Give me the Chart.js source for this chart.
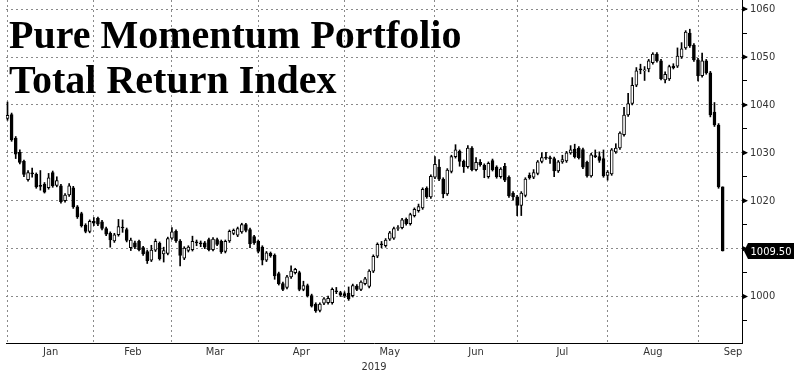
<!DOCTYPE html>
<html>
<head>
<meta charset="utf-8">
<script src="https://cdn.jsdelivr.net/npm/chart.js@4.4.1/dist/chart.umd.min.js"></script>
<style>
  html, body { margin: 0; padding: 0; background: #fff; }
</style>
</head>
<body>
<canvas id="momentumChart" width="800" height="378"></canvas>
<script>
// Pure momentum portfolio, daily candles from 2 Jan to 11 Sep 2019
const monthNames = ['Jan', 'Feb', 'Mar', 'Apr', 'May', 'Jun', 'Jul', 'Aug', 'Sep'];
const tradingDays = [21, 19, 21, 21, 22, 20, 22, 22, 7];
const monthLabelAt = [10.5, 30.5, 50.5, 71.5, 93, 114, 135, 157, 176.5];
const yTickValues = [995, 1000, 1005, 1010, 1015, 1020, 1025, 1030, 1035, 1040, 1045, 1050, 1055, 1060];

const opens = [
    1037.2, 1038.0, 1033.1, 1030.1, 1028.2, 1024.4, 1025.8, 1025.5, 1023.2, 1023.5, 1022.7, 1025.9, 1023.2, 1023.1, 1020.0, 1021.2, 1022.7, 1018.7, 1017.3, 1014.9, 1013.6,
    1015.7, 1016.3, 1015.6, 1014.2, 1013.2, 1011.6, 1012.9, 1014.5, 1014.0, 1010.2, 1011.2, 1011.5, 1010.2, 1009.4, 1007.6, 1009.7, 1011.1, 1008.9, 1009.0,
    1012.2, 1013.6, 1011.6, 1008.0, 1009.6, 1009.8, 1011.3, 1011.1, 1011.2, 1011.9, 1009.8, 1011.9, 1011.5, 1009.4, 1011.6, 1013.2, 1012.8, 1013.5, 1015.0, 1014.0, 1012.5,
    1011.5, 1010.3, 1007.6, 1009.0, 1008.6, 1004.8, 1002.7, 1001.9, 1004.1, 1005.0, 1005.0, 1001.5, 1002.3, 1000.2, 998.4, 997.1, 998.6, 998.7, 998.7, 1001.2, 1000.8,
    1000.6, 1000.7, 1000.2, 1002.2, 1001.5, 1002.7, 1002.1, 1005.3, 1008.4, 1011.0, 1010.6, 1012.0, 1012.2, 1014.2, 1014.4, 1016.1, 1015.2, 1016.9, 1017.9, 1018.5, 1022.6, 1020.8,
    1024.9, 1027.0, 1024.5, 1021.4, 1026.1, 1029.2, 1030.3, 1028.2, 1027.1, 1031.0, 1026.5, 1028.0, 1027.4, 1025.0, 1028.4, 1027.0, 1025.0, 1027.2, 1024.9, 1021.6,
    1020.8, 1019.0, 1021.1, 1025.3, 1024.9, 1025.7, 1028.2, 1029.0, 1029.0, 1028.8, 1026.2, 1028.1, 1028.3, 1030.0, 1030.8, 1031.0, 1030.7, 1028.0, 1025.2, 1029.4, 1029.2, 1028.8,
    1025.3, 1025.6, 1030.2, 1031.0, 1033.8, 1037.9, 1040.3, 1044.1, 1047.5, 1047.1, 1047.5, 1048.8, 1050.6, 1049.2, 1045.2, 1045.4, 1048.1, 1048.1, 1050.0, 1051.9, 1055.0, 1052.5,
    1049.4, 1046.1, 1049.2, 1046.7, 1038.5, 1035.8, 1022.9
];
const highs = [
    1040.6, 1038.3, 1033.4, 1030.6, 1028.5, 1026.3, 1026.8, 1025.8, 1026.3, 1023.8, 1025.7, 1026.2, 1025.0, 1023.4, 1021.5, 1023.6, 1023.0, 1019.0, 1017.6, 1015.2, 1016.0,
    1016.5, 1016.6, 1015.9, 1014.5, 1013.5, 1013.2, 1016.1, 1016.0, 1014.3, 1012.2, 1011.6, 1011.8, 1010.5, 1009.7, 1010.7, 1012.0, 1011.4, 1010.3, 1012.4,
    1014.4, 1013.9, 1011.9, 1010.4, 1010.6, 1012.6, 1011.8, 1011.6, 1011.5, 1012.2, 1012.3, 1012.2, 1011.8, 1011.8, 1013.9, 1014.1, 1014.5, 1015.3, 1015.3, 1014.3, 1012.8,
    1011.8, 1010.6, 1009.4, 1009.3, 1008.9, 1005.1, 1003.0, 1004.4, 1006.4, 1005.9, 1005.3, 1003.2, 1002.6, 1000.5, 998.7, 998.7, 999.8, 1000.1, 1001.8, 1001.9, 1001.1,
    1001.0, 1002.0, 1002.6, 1002.5, 1003.3, 1004.0, 1005.6, 1008.7, 1011.2, 1011.5, 1012.1, 1013.6, 1014.5, 1014.8, 1016.3, 1016.4, 1017.4, 1018.5, 1019.3, 1022.7, 1022.9, 1025.4,
    1029.2, 1028.6, 1024.8, 1026.7, 1029.5, 1031.7, 1030.6, 1028.5, 1031.5, 1031.3, 1029.0, 1028.6, 1027.7, 1028.1, 1028.7, 1027.3, 1026.9, 1027.8, 1025.2, 1021.9,
    1021.1, 1021.9, 1024.8, 1025.8, 1026.5, 1028.4, 1030.0, 1030.1, 1029.3, 1029.1, 1028.4, 1029.5, 1030.3, 1031.5, 1031.8, 1031.3, 1031.0, 1028.3, 1029.9, 1030.6, 1030.2, 1030.6,
    1026.3, 1030.9, 1031.9, 1034.4, 1039.5, 1042.4, 1045.7, 1047.8, 1048.5, 1048.0, 1049.5, 1050.9, 1050.9, 1049.5, 1046.9, 1048.3, 1048.6, 1051.9, 1053.0, 1055.5, 1055.8, 1052.8,
    1049.7, 1050.8, 1049.5, 1047.0, 1040.5, 1036.1, 1022.9
];
const lows = [
    1036.8, 1032.4, 1028.8, 1027.7, 1025.0, 1024.1, 1024.9, 1022.6, 1022.2, 1021.6, 1022.4, 1022.8, 1022.9, 1019.5, 1019.7, 1020.9, 1018.4, 1016.3, 1014.5, 1013.3, 1013.3,
    1014.8, 1014.8, 1013.9, 1012.7, 1010.3, 1011.3, 1012.6, 1013.4, 1011.4, 1009.6, 1010.0, 1009.5, 1008.6, 1006.9, 1007.3, 1009.4, 1007.6, 1007.2, 1008.7,
    1011.9, 1011.3, 1006.4, 1007.7, 1009.3, 1009.5, 1010.6, 1010.4, 1010.0, 1009.5, 1009.5, 1010.6, 1009.0, 1009.1, 1011.3, 1012.9, 1012.5, 1013.2, 1013.5, 1010.2, 1010.9,
    1009.1, 1006.6, 1007.3, 1008.2, 1003.6, 1002.4, 1001.2, 1001.6, 1003.8, 1004.7, 1001.2, 1001.2, 999.9, 997.8, 996.7, 996.8, 998.3, 998.4, 998.4, 1000.6, 1000.0,
    999.8, 999.2, 999.9, 1001.2, 1001.2, 1002.4, 1001.8, 1005.0, 1008.1, 1010.2, 1010.3, 1011.7, 1011.9, 1013.8, 1014.1, 1014.9, 1014.9, 1016.6, 1017.6, 1018.2, 1020.5, 1020.5,
    1024.6, 1024.2, 1020.6, 1021.1, 1025.8, 1028.9, 1027.2, 1025.9, 1026.8, 1026.2, 1026.2, 1027.2, 1024.8, 1024.7, 1026.2, 1024.7, 1024.7, 1024.0, 1020.7, 1020.1,
    1016.9, 1016.9, 1020.8, 1024.5, 1024.6, 1025.4, 1027.9, 1028.6, 1027.8, 1025.0, 1025.9, 1027.8, 1028.0, 1029.7, 1028.9, 1028.7, 1026.7, 1024.9, 1024.9, 1029.0, 1028.0, 1024.9,
    1024.3, 1025.3, 1029.9, 1030.7, 1033.5, 1037.6, 1040.0, 1043.8, 1046.5, 1045.1, 1046.9, 1048.5, 1048.9, 1045.2, 1044.6, 1045.1, 1047.5, 1047.8, 1049.7, 1051.6, 1052.0, 1049.1,
    1045.0, 1045.8, 1046.4, 1037.5, 1035.5, 1022.6, 1009.5
];
const closes = [
    1037.8, 1032.7, 1029.7, 1028.0, 1025.5, 1025.9, 1025.6, 1022.9, 1023.0, 1021.8, 1024.8, 1023.1, 1024.2, 1019.8, 1021.2, 1023.1, 1018.7, 1016.6, 1014.8, 1013.6, 1015.7,
    1015.3, 1015.1, 1014.2, 1013.0, 1011.8, 1012.9, 1014.6, 1014.3, 1011.7, 1011.8, 1010.3, 1009.8, 1008.9, 1007.5, 1009.7, 1011.5, 1007.9, 1009.6, 1012.1,
    1013.5, 1011.6, 1008.6, 1010.1, 1010.3, 1011.5, 1011.2, 1011.0, 1010.3, 1009.8, 1012.0, 1010.9, 1009.3, 1011.5, 1013.6, 1013.8, 1014.2, 1015.0, 1013.8, 1011.0, 1011.2,
    1009.4, 1007.6, 1009.1, 1008.5, 1004.3, 1002.7, 1001.5, 1004.1, 1005.3, 1005.7, 1001.5, 1002.3, 1000.2, 998.0, 997.0, 998.4, 999.5, 999.6, 1001.5, 1001.0, 1000.3,
    1000.1, 999.5, 1002.3, 1001.5, 1003.0, 1003.7, 1005.3, 1008.4, 1010.9, 1010.8, 1011.8, 1013.3, 1014.2, 1014.4, 1016.0, 1015.2, 1017.1, 1018.2, 1018.8, 1022.4, 1020.8, 1025.1,
    1027.6, 1024.5, 1021.4, 1026.4, 1029.2, 1030.6, 1028.2, 1027.1, 1031.0, 1026.5, 1028.0, 1027.5, 1026.5, 1027.8, 1026.5, 1025.0, 1026.6, 1024.3, 1021.0, 1020.8,
    1019.0, 1021.6, 1024.5, 1024.8, 1025.9, 1028.1, 1029.0, 1028.9, 1028.8, 1026.2, 1028.1, 1028.6, 1030.0, 1030.6, 1029.2, 1029.0, 1027.0, 1025.2, 1029.6, 1029.2, 1028.4, 1025.2,
    1026.0, 1030.6, 1031.0, 1034.1, 1037.9, 1040.3, 1044.1, 1047.1, 1047.3, 1047.3, 1049.2, 1050.6, 1049.2, 1045.5, 1046.4, 1048.0, 1047.8, 1050.2, 1051.7, 1055.2, 1052.3, 1049.4,
    1046.1, 1049.2, 1046.7, 1037.9, 1035.8, 1022.9, 1009.5
];

const AXIS_FONT = '"DejaVu Sans Condensed", "Liberation Sans Narrow", sans-serif';
const GRID_COLOR = '#8a8a8a';

// index of the first trading day of each month (where the vertical grid goes)
const monthStarts = [];
let dayCount = 0;
tradingDays.forEach(n => { monthStarts.push(dayCount); dayCount += n; });

// wicks span low..high, bodies span open..close
const wickData = highs.map((h, i) => ({ x: i, y: [lows[i], h] }));
const bodyData = opens.map((o, i) => ({ x: i, y: [Math.min(o, closes[i]), Math.max(o, closes[i])] }));
const bodyColors = opens.map((o, i) => closes[i] >= o ? '#ffffff' : '#000000');

// title, last price tag and the arrow marks on the price axis
const overlayPlugin = {
    id: 'overlay',
    afterDraw(chart) {

        const ctx = chart.ctx;
        const yScale = chart.scales.y;
        const right = chart.chartArea.right;

        ctx.save();
        ctx.fillStyle = '#000';
        yTickValues.filter(v => v % 10 === 0).forEach(v => {
            const py = yScale.getPixelForValue(v);
            ctx.beginPath();
            ctx.moveTo(right, py - 3);
            ctx.lineTo(right + 6, py);
            ctx.lineTo(right, py + 3);
            ctx.closePath();
            ctx.fill();
        });

        const last = closes[closes.length - 1];
        const py = Math.round(yScale.getPixelForValue(last));
        ctx.beginPath();
        ctx.moveTo(right + 2, py);
        ctx.lineTo(right + 6, py - 8);
        ctx.lineTo(right + 52, py - 8);
        ctx.lineTo(right + 52, py + 8);
        ctx.lineTo(right + 6, py + 8);
        ctx.closePath();
        ctx.fill();
        ctx.fillStyle = '#fff';
        ctx.font = '11px ' + AXIS_FONT;
        ctx.textAlign = 'center';
        ctx.textBaseline = 'middle';
        ctx.fillText(last.toFixed(2), right + 29, py + 1);

        ctx.fillStyle = '#000';
        ctx.font = 'bold 40px "Liberation Serif", "DejaVu Serif", serif';
        ctx.textAlign = 'left';
        ctx.textBaseline = 'alphabetic';
        ctx.fillText('Pure Momentum Portfolio', 9, 48);
        ctx.fillText('Total Return Index', 9, 93);
        ctx.restore();
    }
};

const chart = new Chart(document.getElementById('momentumChart').getContext('2d'), {

    type: 'bar',
    data: {
        datasets: [{
            label: 'Body',
            data: bodyData,
            backgroundColor: bodyColors,
            borderColor: '#000',
            borderWidth: 1,
            borderSkipped: false,
            barThickness: 3,
            minBarLength: 1,
            grouped: false
        }, {
            label: 'Wick',
            data: wickData,
            backgroundColor: '#000',
            borderWidth: 0,
            barThickness: 1,
            grouped: false
        }]
    },
    options: {
        responsive: false,
        animation: false,
        layout: { padding: { left: 6, right: 0, top: 0, bottom: 0 } },
        plugins: {
            legend: { display: false },
            tooltip: { enabled: false }
        },
        scales: {
            x: {
                type: 'linear',
                bounds: 'data',
                offset: false,
                min: -0.365,
                max: 178.7,
                afterBuildTicks: scale => {
                    scale.ticks = monthStarts.map(v => ({ value: v, start: true }))
                        .concat(monthLabelAt.map((v, i) => ({ value: v, name: monthNames[i] })))
                        .sort((a, b) => a.value - b.value);
                },
                afterFit: scale => {
                    scale.height = 35;
                    scale.paddingLeft = 0;
                    scale.paddingRight = 0;
                },
                grid: {
                    offset: false,
                    drawTicks: false,
                    color: c => (c.tick && c.tick.start) ? GRID_COLOR : 'rgba(0,0,0,0)',
                    lineWidth: 1
                },
                border: { display: true, color: '#000', width: 1, dash: [2, 3] },
                ticks: {
                    autoSkip: false,
                    maxRotation: 0,
                    padding: 3,
                    color: '#333',
                    font: { family: AXIS_FONT, size: 11 },
                    callback: (value, index, ticks) => ticks[index].name || ''
                },
                title: {
                    display: true,
                    text: '2019',
                    color: '#333',
                    font: { family: AXIS_FONT, size: 11 },
                    padding: { top: 0, bottom: 4 }
                }
            },
            y: {
                type: 'linear',
                position: 'right',
                bounds: 'data',
                min: 990.3,
                max: 1061.9,
                afterBuildTicks: scale => {
                    scale.ticks = yTickValues.map(v => ({ value: v }));
                },
                afterFit: scale => {
                    scale.width = 58;
                    scale.paddingTop = 0;
                    scale.paddingBottom = 0;
                },
                grid: {
                    color: c => (c.tick && c.tick.value % 10 === 0) ? GRID_COLOR : 'rgba(0,0,0,0)',
                    tickColor: '#000',
                    tickLength: 5,
                    lineWidth: 1
                },
                border: { display: true, color: '#000', width: 1, dash: [2, 3] },
                ticks: {
                    autoSkip: false,
                    padding: 3,
                    color: '#333',
                    font: { family: AXIS_FONT, size: 11 },
                    callback: value => value % 10 === 0 ? String(value) : ''
                }
            }
        }
    },
    plugins: [overlayPlugin]
});
</script>
</body>
</html>
